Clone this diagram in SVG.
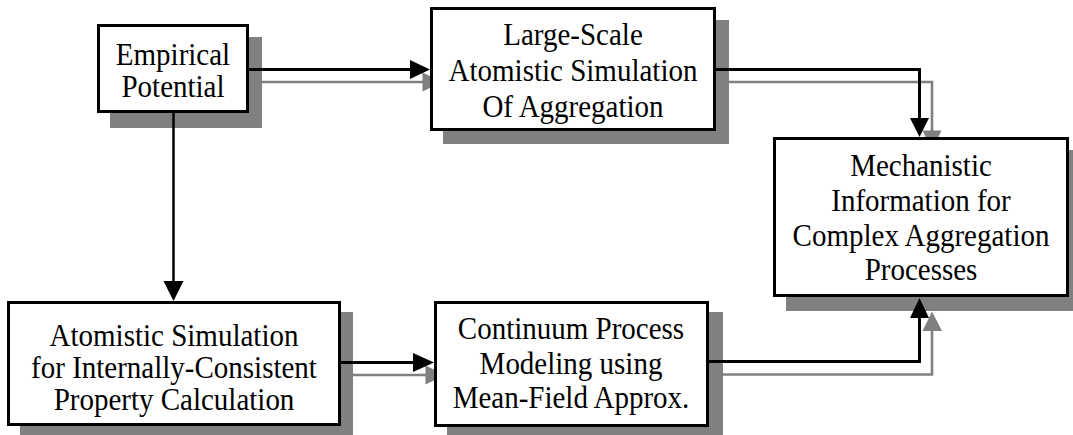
<svg xmlns="http://www.w3.org/2000/svg" width="1073" height="435" viewBox="0 0 1073 435">
  <defs>
    <style>
      .shadow { fill: #808080; stroke: none; }
      .box { fill: #ffffff; stroke: #000000; stroke-width: 3; }
      .label { font-family: "Liberation Serif", "Times New Roman", serif; font-size: 29px; fill: #000000; text-anchor: middle; }
      .wire { fill: none; stroke: #000000; stroke-width: 3; }
      .wire-thin { fill: none; stroke: #000000; stroke-width: 2.5; }
      .head { fill: #000000; stroke: none; }
      .wire-shadow { fill: none; stroke: #808080; stroke-width: 2.6; }
      .head-shadow { fill: #808080; stroke: none; }
    </style>
  </defs>
  <rect width="1073" height="435" fill="#ffffff"/>

  <!-- drop shadows of the connectors, underneath the boxes -->
  <g id="connector-shadows">
    <path class="wire-shadow" d="M262,82 H423"/>
    <polygon class="head-shadow" points="422.5,72.5 442.5,82 422.5,91.5"/>
    <path class="wire-shadow" d="M729,82 H932 V131"/>
    <polygon class="head-shadow" points="922.5,130.5 941.5,130.5 932,150"/>
    <path class="wire-shadow" d="M353,375 H426"/>
    <polygon class="head-shadow" points="425.5,365.5 445.5,375 425.5,384.5"/>
    <path class="wire-shadow" d="M723,374.5 H932 V330"/>
    <polygon class="head-shadow" points="922.5,331 942,331 932,311.5"/>
  </g>

  <!-- labels are set slightly tall (vertical scale 1.08 about the baseline) -->
  <g id="empirical-potential">
    <rect class="shadow" x="110" y="37" width="152" height="91"/>
    <rect class="box" x="98.5" y="25.5" width="149" height="86"/>
    <text class="label" transform="translate(173,65) scale(1,1.08)">Empirical</text>
    <text class="label" transform="translate(173,97) scale(1,1.08)">Potential</text>
  </g>

  <g id="large-scale-simulation">
    <rect class="shadow" x="443" y="20" width="286" height="124"/>
    <rect class="box" x="431.5" y="8.5" width="283" height="121"/>
    <text class="label" transform="translate(573,45) scale(1,1.08)">Large-Scale</text>
    <text class="label" transform="translate(573,81) scale(1,1.08)">Atomistic Simulation</text>
    <text class="label" transform="translate(573,117) scale(1,1.08)">Of Aggregation</text>
  </g>

  <g id="mechanistic-information">
    <rect class="shadow" x="786" y="150" width="296" height="161"/>
    <rect class="box" x="774.5" y="138.5" width="293" height="157"/>
    <text class="label" transform="translate(921,176) scale(1,1.08)">Mechanistic</text>
    <text class="label" transform="translate(921,211) scale(1,1.08)">Information for</text>
    <text class="label" transform="translate(921,246) scale(1,1.08)">Complex Aggregation</text>
    <text class="label" transform="translate(921,280) scale(1,1.08)">Processes</text>
  </g>

  <g id="atomistic-property-calculation">
    <rect class="shadow" x="20" y="312" width="333" height="123"/>
    <rect class="box" x="8.5" y="302.5" width="331" height="122"/>
    <text class="label" transform="translate(174,346) scale(1,1.08)">Atomistic Simulation</text>
    <text class="label" transform="translate(174,378) scale(1,1.08)">for Internally-Consistent</text>
    <text class="label" transform="translate(174,410) scale(1,1.08)">Property Calculation</text>
  </g>

  <g id="continuum-process-modeling">
    <rect class="shadow" x="447" y="312" width="276" height="123"/>
    <rect class="box" x="435.5" y="302.5" width="272" height="123"/>
    <text class="label" transform="translate(571,339) scale(1,1.08)">Continuum Process</text>
    <text class="label" transform="translate(571,374) scale(1,1.08)">Modeling using</text>
    <text class="label" transform="translate(571,408) scale(1,1.08)">Mean-Field Approx.</text>
  </g>

  <g id="connectors">
    <!-- Empirical Potential to Large-Scale simulation -->
    <path class="wire" d="M249,69.5 H411"/>
    <polygon class="head" points="410,60 430,69.5 410,79"/>
    <!-- Large-Scale simulation to Mechanistic Information -->
    <path class="wire" d="M716,69.5 H919.5 V119"/>
    <polygon class="head" points="910,118 929,118 919.5,137"/>
    <!-- Empirical Potential down to Atomistic Simulation -->
    <path class="wire-thin" d="M173.5,113 V282"/>
    <polygon class="head" points="163.5,281 183.5,281 173.5,301"/>
    <!-- Atomistic Simulation to Continuum modeling -->
    <path class="wire" d="M341,362.5 H414"/>
    <polygon class="head" points="413,353 434,362.5 413,372"/>
    <!-- Continuum modeling up to Mechanistic Information -->
    <path class="wire" d="M709,361.5 H919.5 V317"/>
    <polygon class="head" points="910,318 929,318 919.5,298"/>
  </g>
</svg>
